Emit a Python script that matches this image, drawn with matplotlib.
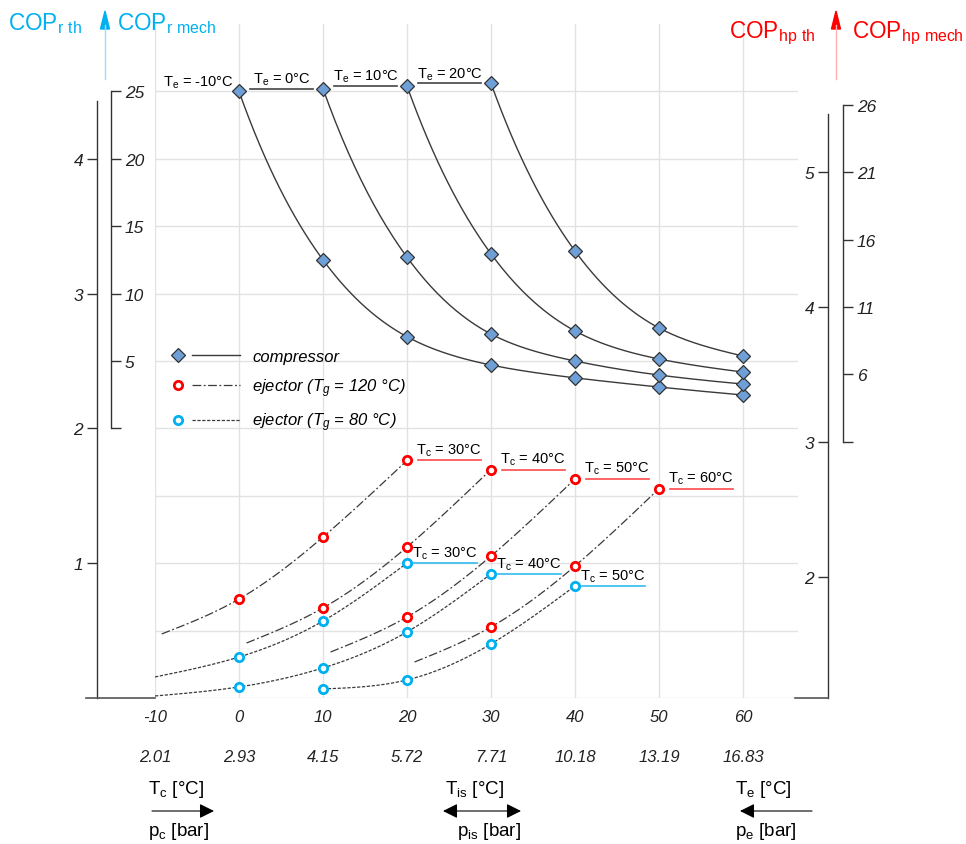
import numpy as np
import matplotlib
matplotlib.use('Agg')
import matplotlib.pyplot as plt
from matplotlib.lines import Line2D
from matplotlib.legend_handler import HandlerBase

plt.rcParams['font.family'] = ['Liberation Sans', 'DejaVu Sans']
plt.rcParams['mathtext.default'] = 'regular'
plt.rcParams['axes.unicode_minus'] = False

# ---------------- data ----------------
x_ticks = [-10, 0, 10, 20, 30, 40, 50, 60]
x_tick_labels = ['-10', '0', '10', '20', '30', '40', '50', '60']
pressure_labels = ['2.01', '2.93', '4.15', '5.72', '7.71', '10.18', '13.19', '16.83']

# compressor: COP_r mech (left mech scale)
comp_Te = [-10, 0, 10, 20]
comp_x = [[0, 10, 20, 30, 40, 50, 60],
          [10, 20, 30, 40, 50, 60],
          [20, 30, 40, 50, 60],
          [30, 40, 50, 60]]
comp_cop = [[25.0, 12.5, 6.8, 4.7, 3.75, 3.07, 2.48],
            [25.2, 12.7, 7.0, 5.0, 3.96, 3.29],
            [25.4, 12.95, 7.23, 5.15, 4.18],
            [25.6, 13.16, 7.45, 5.37]]

# ejector Tg = 120 C: COP_r th (left th scale)
ej120_Tc = [30, 40, 50, 60]
ej120_start_x = [-9.2, 0.9, 10.9, 20.9]
ej120_start_cop = [0.475, 0.408, 0.341, 0.267]
ej120_x = [[0, 10, 20], [10, 20, 30], [20, 30, 40], [30, 40, 50]]
ej120_cop = [[0.734, 1.194, 1.762],
             [0.668, 1.120, 1.695],
             [0.601, 1.053, 1.625],
             [0.527, 0.979, 1.553]]

# ejector Tg = 80 C
ej80_Tc = [30, 40, 50]
ej80_start_x = [-10, -10, None]
ej80_start_cop = [0.156, 0.015, None]
ej80_x = [[0, 10, 20], [0, 10, 20, 30], [10, 20, 30, 40]]
ej80_cop = [[0.304, 0.571, 1.001],
            [0.082, 0.223, 0.490, 0.920],
            [0.067, 0.134, 0.401, 0.831]]

# ---------------- helpers ----------------
W, H = 966, 845
CYAN = '#00B0F0'
RED = '#FF0000'


def fx(x):
    return x / W


def fy(y):
    return 1 - y / H


def natural_spline(x, y, n=200):
    x = np.asarray(x, float)
    y = np.asarray(y, float)
    k = len(x)
    h = np.diff(x)
    A = np.zeros((k, k))
    b = np.zeros(k)
    A[0, 0] = A[-1, -1] = 1
    for i in range(1, k - 1):
        A[i, i - 1] = h[i - 1]
        A[i, i] = 2 * (h[i - 1] + h[i])
        A[i, i + 1] = h[i]
        b[i] = 3 * ((y[i + 1] - y[i]) / h[i] - (y[i] - y[i - 1]) / h[i - 1])
    c = np.linalg.solve(A, b)
    bc = (y[1:] - y[:-1]) / h - h * (2 * c[:-1] + c[1:]) / 3
    d = (c[1:] - c[:-1]) / (3 * h)
    xs = np.linspace(x[0], x[-1], n)
    idx = np.clip(np.searchsorted(x, xs) - 1, 0, k - 2)
    dx = xs - x[idx]
    ys = y[idx] + bc[idx] * dx + c[idx] * dx ** 2 + d[idx] * dx ** 3
    return xs, ys


def mech_to_th(m):
    return 2 + np.asarray(m, float) / 10.0


# ---------------- figure ----------------
fig = plt.figure(figsize=(W / 100, H / 100), dpi=100)
X0, X1, YB, YT = 155, 798, 699, 25
ax_rect = [fx(X0), fy(YB), fx(X1) - fx(X0), fy(YT) - fy(YB)]
ax = fig.add_axes(ax_rect)
ax.set_facecolor('none')
ax.set_xlim(-10, -10 + (X1 - X0) / 8.4)
ax.set_ylim(0, 5.0)
for s in ax.spines.values():
    s.set_visible(False)
ax.set_xticks(x_ticks)
ax.set_xticklabels(x_tick_labels, fontstyle='italic', fontsize=12)
ax.set_yticks(np.arange(0, 4.51, 0.5))
ax.tick_params(axis='y', length=0, labelleft=False)
ax.tick_params(axis='x', length=0, pad=8, colors='#222')
ax.grid(True, color='#e2e2e2', lw=1)
ax.set_axisbelow(True)

sec = ax.secondary_xaxis(-0.071)
sec.set_xticks(x_ticks)
sec.set_xticklabels(pressure_labels, fontstyle='italic', fontsize=12)
sec.tick_params(length=0, pad=2, colors='#222')
sec.spines['bottom'].set_visible(False)

line_col = '#3a3a3a'

# compressor curves
for te, xs_, cs in zip(comp_Te, comp_x, comp_cop):
    sx, sy = natural_spline(xs_, np.log(cs))
    ax.plot(sx, mech_to_th(np.exp(sy)), color=line_col, lw=1.0, zorder=3)
    ax.plot(xs_, mech_to_th(cs), linestyle='none', marker='D', markersize=6.8,
            mfc='#6E9FD6', mec='#333333', mew=0.9, zorder=5)
    xp, yp = xs_[0], mech_to_th(cs[0])
    ax.annotate(f'T$_e$ = {te}°C', xy=(xp, yp), xytext=(-41, 6),
                textcoords='offset pixels', ha='center', va='baseline', fontsize=10.5)
    if te != comp_Te[0]:
        ax.plot([xp - 8.7, xp - 1.2], [yp, yp], color='#444444', lw=1.2, zorder=3)

dashdot = (0, (7, 2, 1.5, 2))
dashed = (0, (2.6, 1.3))

# ejector Tg=120
for tc, sx0, sc0, xs_, cs in zip(ej120_Tc, ej120_start_x, ej120_start_cop, ej120_x, ej120_cop):
    sx, sy = natural_spline([sx0] + xs_, [sc0] + cs)
    ax.plot(sx, sy, color=line_col, lw=0.9, linestyle=dashdot, zorder=3)
    ax.plot(xs_, cs, linestyle='none', marker='o', markersize=6, mfc='white',
            mec=RED, mew=2, zorder=6)
    xp, yp = xs_[-1], cs[-1]
    ax.plot([xp + 1.3, xp + 8.8], [yp, yp], color='#FF4a4a', lw=1.2, zorder=3)
    ax.annotate(f'T$_c$ = {tc}°C', xy=(xp, yp), xytext=(42, 7),
                textcoords='offset pixels', ha='center', va='baseline', fontsize=10.5)

# ejector Tg=80
for tc, sx0, sc0, xs_, cs in zip(ej80_Tc, ej80_start_x, ej80_start_cop, ej80_x, ej80_cop):
    if sx0 is None:
        px_, pc_ = xs_, cs
    else:
        px_, pc_ = [sx0] + xs_, [sc0] + cs
    sx, sy = natural_spline(px_, pc_)
    ax.plot(sx, sy, color=line_col, lw=0.9, linestyle=dashed, zorder=3)
    ax.plot(xs_, cs, linestyle='none', marker='o', markersize=6, mfc='white',
            mec=CYAN, mew=2, zorder=6)
    xp, yp = xs_[-1], cs[-1]
    ax.plot([xp + 0.8, xp + 8.3], [yp, yp], color='#33BBEE', lw=1.2, zorder=3)
    ax.annotate(f'T$_c$ = {tc}°C', xy=(xp, yp), xytext=(38, 6),
                textcoords='offset pixels', ha='center', va='baseline', fontsize=10.5)


# ---------------- legend ----------------
class MarkerLineHandler(HandlerBase):
    def create_artists(self, legend, orig_handle, xdescent, ydescent, width,
                       height, fontsize, trans):
        mk, ln = orig_handle
        x0 = -xdescent
        y = height / 2 - ydescent
        m = Line2D([x0 + 0.12 * width], [y])
        m.update_from(mk)
        m.set_linestyle('none')
        m.set_transform(trans)
        l = Line2D([x0 + 0.33 * width, x0 + width], [y, y])
        l.update_from(ln)
        l.set_marker('')
        l.set_transform(trans)
        return [m, l]


h_comp = (Line2D([], [], marker='D', markersize=6.8, mfc='#6E9FD6', mec='#333333', mew=0.9),
          Line2D([], [], color=line_col, lw=1.0))
h_120 = (Line2D([], [], marker='o', markersize=6, mfc='white', mec=RED, mew=2),
         Line2D([], [], color=line_col, lw=0.9, linestyle=dashdot))
h_80 = (Line2D([], [], marker='o', markersize=6, mfc='white', mec=CYAN, mew=2),
        Line2D([], [], color=line_col, lw=0.9, linestyle=dashed))
leg = ax.legend([h_comp, h_120, h_80],
                ['compressor', 'ejector (T$_g$ = 120 °C)', 'ejector (T$_g$ = 80 °C)'],
                handler_map={tuple: MarkerLineHandler()},
                loc='upper left', bbox_to_anchor=(fx(169), fy(350)),
                bbox_transform=fig.transFigure, frameon=False,
                prop={'style': 'italic', 'size': 12}, handlelength=4.26,
                handletextpad=0.72, labelspacing=0.72, borderpad=0, borderaxespad=0)


# ---------------- scale axes ----------------
def scale_axis(xpix, ylim, side, bounds, ticks, labels):
    a = fig.add_axes([fx(xpix), ax_rect[1], 1e-5, ax_rect[3]])
    a.set_facecolor('none')
    a.set_ylim(*ylim)
    a.xaxis.set_visible(False)
    for s in a.spines.values():
        s.set_visible(False)
    a.spines[side].set_visible(True)
    a.spines[side].set_bounds(*bounds)
    a.spines[side].set_color('#333333')
    a.spines[side].set_linewidth(1.0)
    if side == 'right':
        a.yaxis.tick_right()
    else:
        a.yaxis.tick_left()
    a.set_yticks(ticks)
    a.set_yticklabels(labels, fontstyle='italic', fontsize=12.5)
    a.tick_params(axis='y', length=7, width=1.0, color='#333333', pad=3, colors='#222')
    return a


scale_axis(97, (0, 5.0), 'left', (0, 4.43), [1, 2, 3, 4], ['1', '2', '3', '4'])
scale_axis(111, (-20, 30), 'right', (0, 25), [0, 5, 10, 15, 20, 25],
           ['', '5', '10', '15', '20', '25'])
scale_axis(828, (1.1, 6.1), 'left', (1.1, 5.43), [2, 3, 4, 5], ['2', '3', '4', '5'])
scale_axis(843, (-18, 32), 'right', (1, 26), [1, 6, 11, 16, 21, 26],
           ['', '6', '11', '16', '21', '26'])

# bottom dark line pieces
for xa, xb in [(86, X0), (X1 - 3, 828)]:
    fig.add_artist(Line2D([fx(xa), fx(xb)], [fy(699), fy(699)], transform=fig.transFigure,
                          color='#555555', lw=1.2))

# ---------------- top labels ----------------
fig.text(fx(8), fy(24), 'COP$_{r\\ th}$', color=CYAN, fontsize=16.3, va='center')
fig.text(fx(117), fy(24), 'COP$_{r\\ mech}$', color=CYAN, fontsize=16.3, va='center')
fig.text(fx(729), fy(33), 'COP$_{hp\\ th}$', color=RED, fontsize=16.3, va='center')
fig.text(fx(852), fy(33), 'COP$_{hp\\ mech}$', color=RED, fontsize=16.3, va='center')
for xpix, col, lc in [(105, CYAN, '#9adcf6'), (836, RED, '#ffb0b0')]:
    fig.add_artist(Line2D([fx(xpix), fx(xpix)], [fy(80), fy(26)], transform=fig.transFigure,
                          color=lc, lw=1))
    fig.patches.append(matplotlib.patches.FancyArrow(
        fx(xpix), fy(30), 0, fy(12) - fy(30), width=0, head_width=fx(9),
        head_length=fy(12) - fy(30), length_includes_head=True,
        transform=fig.transFigure, color=col, figure=fig))

# ---------------- bottom labels ----------------
narrow = ['Liberation Sans Narrow', 'Liberation Sans', 'DejaVu Sans']
fig.text(fx(148), fy(790), 'T$_c$ [°C]', fontsize=13.5, va='center', family=narrow)
fig.text(fx(148), fy(832), 'p$_c$ [bar]', fontsize=13.5, va='center', family=narrow)
fig.text(fx(445), fy(790), 'T$_{is}$ [°C]', fontsize=13.5, va='center', family=narrow)
fig.text(fx(457), fy(832), 'p$_{is}$ [bar]', fontsize=13.5, va='center', family=narrow)
fig.text(fx(735), fy(790), 'T$_e$ [°C]', fontsize=13.5, va='center', family=narrow)
fig.text(fx(735), fy(832), 'p$_e$ [bar]', fontsize=13.5, va='center', family=narrow)

arrow_kw = dict(arrowstyle='-|>', color='black', lw=0.8, mutation_scale=22,
                shrinkA=0, shrinkB=0)
fig.add_artist(matplotlib.patches.FancyArrowPatch((fx(152), fy(812)), (fx(214), fy(812)),
                                                  transform=fig.transFigure, **arrow_kw))
fig.add_artist(matplotlib.patches.FancyArrowPatch((fx(812), fy(812)), (fx(740), fy(812)),
                                                  transform=fig.transFigure, **arrow_kw))
fig.add_artist(matplotlib.patches.FancyArrowPatch((fx(443), fy(812)), (fx(521), fy(812)),
                                                  transform=fig.transFigure,
                                                  **dict(arrow_kw, arrowstyle='<|-|>')))

fig.savefig('out.png', dpi=100, facecolor='white')
